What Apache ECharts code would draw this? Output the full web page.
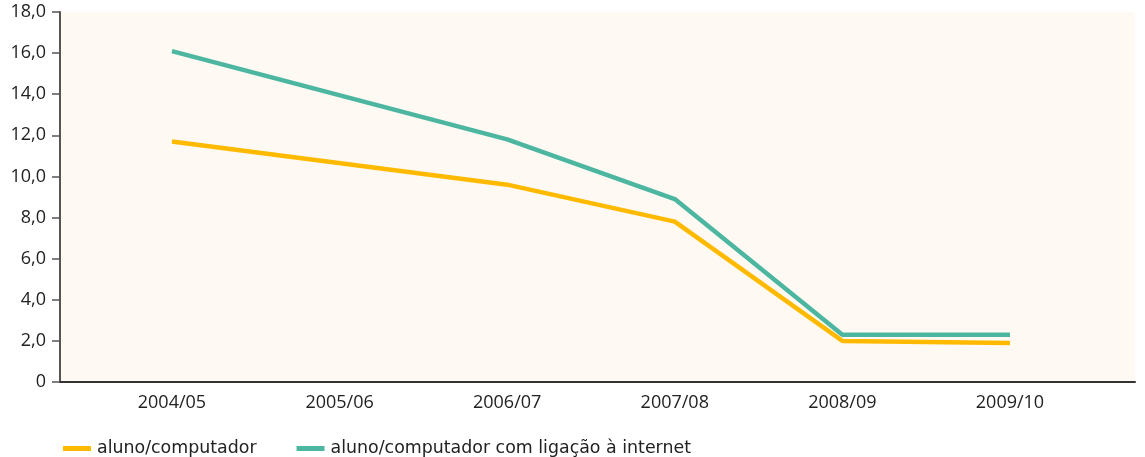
<!DOCTYPE html>
<html>
<head>
<meta charset="utf-8">
<script src="https://cdn.jsdelivr.net/npm/echarts@6/dist/echarts.min.js"></script>
<style>
html,body{margin:0;padding:0;background:#fff;}
#chart{width:1145px;height:457px;}
</style>
</head>
<body>
<div id="chart"></div>
<script>
const categories = ['2004/05', '2005/06', '2006/07', '2007/08', '2008/09', '2009/10'];
const alunoComputador = [11.7, null, 9.6, 7.8, 2.0, 1.9];
const alunoComputadorInternet = [16.1, null, 11.8, 8.9, 2.3, 2.3];
const seriesNames = ['aluno/computador', 'aluno/computador com ligação à internet'];

function toPairs(arr) {
  return arr.map((v, i) => [i, v]);
}

const chart = echarts.init(document.getElementById('chart'), null, {renderer: 'canvas'});
const font = '"Open Sans", sans-serif';
chart.setOption({
  animation: false,
  backgroundColor: '#ffffff',
  grid: {
    left: 60, right: 10, top: 12, bottom: 75,
    show: true, backgroundColor: '#FEFAF3', borderWidth: 0
  },
  legend: {
    left: 58, bottom: -5,
    itemWidth: 28, itemHeight: 5, itemGap: 40,
    icon: 'rect',
    textStyle: {fontFamily: '"DejaVu Sans", sans-serif', fontSize: 17.4, color: '#222', padding: [0, 0, 0, 1]},
    data: seriesNames
  },
  xAxis: {
    type: 'value',
    min: -0.668, max: 5.746,
    axisLine: {show: true, onZero: false, lineStyle: {color: '#333', width: 2}},
    axisTick: {show: false},
    splitLine: {show: false},
    axisLabel: {
      customValues: categories.map((c, i) => i),
      formatter: v => categories[Math.round(v)],
      fontFamily: font, fontSize: 18, color: '#222', margin: 12
    }
  },
  yAxis: {
    type: 'value',
    min: 0, max: 18, interval: 2,
    axisLine: {show: true, onZero: false, lineStyle: {color: '#555', width: 2}},
    axisTick: {show: true, inside: false, length: 8, lineStyle: {color: '#555', width: 1.5}},
    splitLine: {show: false},
    axisLabel: {
      formatter: v => v === 0 ? '0' : v.toFixed(1).replace('.', ','),
      fontFamily: font, fontSize: 18, color: '#222', margin: 14
    }
  },
  series: [
    {
      name: seriesNames[0], type: 'line', data: toPairs(alunoComputador),
      connectNulls: true, showSymbol: false, symbol: 'none',
      lineStyle: {color: '#FFBA00', width: 4.5}, itemStyle: {color: '#FFBA00'}
    },
    {
      name: seriesNames[1], type: 'line', data: toPairs(alunoComputadorInternet),
      connectNulls: true, showSymbol: false, symbol: 'none',
      lineStyle: {color: '#4DB6A0', width: 4.5}, itemStyle: {color: '#4DB6A0'}
    }
  ]
});
</script>
</body>
</html>
